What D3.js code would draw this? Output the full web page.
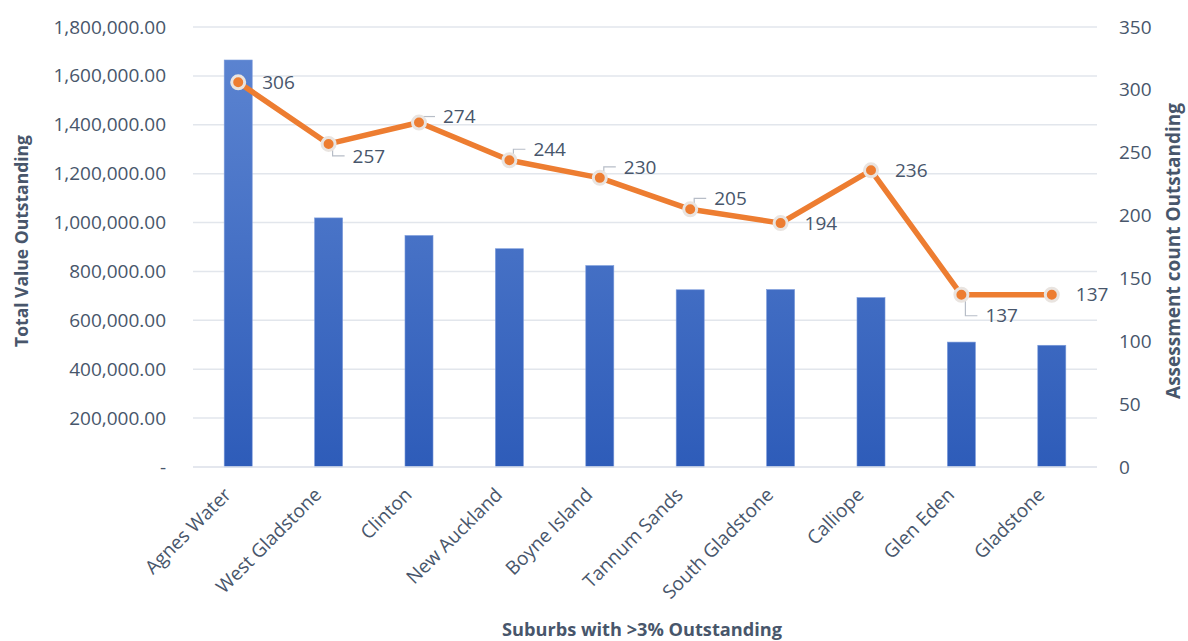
<!DOCTYPE html>
<html>
<head>
<meta charset="utf-8">
<script src="https://cdn.jsdelivr.net/npm/d3@7"></script>
<style>
  html, body { margin: 0; padding: 0; background: #ffffff; }
  svg { display: block; }
  text { font-family: "Open Sans", Lato, sans-serif; }
</style>
</head>
<body>
<svg id="chart" width="1188" height="641"></svg>
<script>
// Suburbs and their outstanding figures
const suburbs = ["Agnes Water", "West Gladstone", "Clinton", "New Auckland", "Boyne Island",
                 "Tannum Sands", "South Gladstone", "Calliope", "Glen Eden", "Gladstone"];
const totalValue = [1665000, 1019000, 947000, 893000, 824000, 725000, 726000, 693000, 511000, 498000];
const assessmentCount = [306, 257, 274, 244, 230, 205, 194, 236, 137, 137];
const valueTicks = [0, 200000, 400000, 600000, 800000, 1000000, 1200000, 1400000, 1600000, 1800000];
const countTicks = [0, 50, 100, 150, 200, 250, 300, 350];
// where each count label sits relative to its marker
const labelPlacement = ["right", "below", "above", "above", "above", "above", "right", "right", "below", "right"];

const svg = d3.select("#chart");
const margin = { left: 193, right: 91, top: 27, bottom: 174 };
const W = 1188, H = 641;
const x0 = margin.left, x1 = W - margin.right, y0 = H - margin.bottom, y1 = margin.top;

const textColor = "#48566B";
const gridColor = "#E2E6EC";
const fontSize = 19;

const x = d3.scaleBand().domain(suburbs).range([x0, x1]).paddingInner(0.69).paddingOuter(0.345);
const yL = d3.scaleLinear().domain([0, 1800000]).range([y0, y1]);
const yR = d3.scaleLinear().domain([0, 350]).range([y0, y1]);
const cx = d => x(d) + x.bandwidth() / 2;

// bar gradient
const defs = svg.append("defs");
const grad = defs.append("linearGradient").attr("id", "barGrad")
  .attr("gradientUnits", "userSpaceOnUse")
  .attr("x1", 0).attr("x2", 0).attr("y1", y1).attr("y2", y0);
grad.append("stop").attr("offset", "0%").attr("stop-color", "#5E86D2");
grad.append("stop").attr("offset", "100%").attr("stop-color", "#2E5CB9");

// gridlines
svg.append("g").selectAll("line").data(valueTicks).join("line")
  .attr("x1", x0).attr("x2", x1)
  .attr("y1", d => yL(d)).attr("y2", d => yL(d))
  .attr("stroke", gridColor).attr("stroke-width", 1.5);

// left axis
const leftAxis = d3.axisLeft(yL).tickValues(valueTicks)
  .tickFormat(d => d === 0 ? "-" : d3.format(",.2f")(d)).tickSize(0).tickPadding(27);
svg.append("g").attr("transform", `translate(${x0},0)`).call(leftAxis)
  .call(g => g.select(".domain").remove())
  .call(g => g.selectAll("text").attr("fill", textColor).attr("font-size", fontSize)
    .attr("font-family", "'Open Sans', sans-serif"));

// right axis
const rightAxis = d3.axisRight(yR).tickValues(countTicks).tickSize(0).tickPadding(22);
svg.append("g").attr("transform", `translate(${x1},0)`).call(rightAxis)
  .call(g => g.select(".domain").remove())
  .call(g => g.selectAll("text").attr("fill", textColor).attr("font-size", fontSize)
    .attr("font-family", "'Open Sans', sans-serif"));

// bars
svg.append("g").selectAll("rect").data(suburbs).join("rect")
  .attr("x", d => x(d)).attr("width", x.bandwidth())
  .attr("y", (d, i) => yL(totalValue[i]))
  .attr("height", (d, i) => y0 - yL(totalValue[i]))
  .attr("fill", "url(#barGrad)")
  .attr("stroke", "#7B9BDB").attr("stroke-width", 0.6);

// baseline
svg.append("line").attr("x1", x0).attr("x2", x1).attr("y1", y0).attr("y2", y0)
  .attr("stroke", gridColor).attr("stroke-width", 1.5);

// category labels
const xAxis = d3.axisBottom(x).tickSize(0).tickPadding(0);
svg.append("g").attr("transform", `translate(0,${y0})`).call(xAxis)
  .call(g => g.select(".domain").remove())
  .call(g => g.selectAll("text")
    .attr("fill", textColor).attr("font-size", fontSize).attr("font-family", "'Open Sans', sans-serif")
    .attr("text-anchor", "end").attr("dy", 0).attr("y", 0)
    .attr("transform", "translate(-6,29) rotate(-45)"));

// count line
const line = d3.line().x((d, i) => cx(suburbs[i])).y(d => yR(d));
svg.append("path").datum(assessmentCount)
  .attr("d", line).attr("fill", "none")
  .attr("stroke", "#ED7D31").attr("stroke-width", 5.5).attr("stroke-linejoin", "round");

// leader lines and labels
const lab = svg.append("g");
assessmentCount.forEach((v, i) => {
  const px = cx(suburbs[i]), py = yR(v);
  const place = labelPlacement[i];
  let lx = px + 24, ly = py;
  if (place === "below") ly = py + (i === 8 ? 21 : 12);
  if (place === "above") ly = py - (i === 2 ? 6 : 11);
  if (place !== "right") {
    const sx = px + 4;
    const sy = place === "below" ? py + 6 : py - 6;
    lab.append("path")
      .attr("d", `M${sx},${sy} L${sx},${ly} L${lx - 8},${ly}`)
      .attr("fill", "none").attr("stroke", "#B7BDC7").attr("stroke-width", 1.2);
  }
  lab.append("text").attr("x", lx).attr("y", ly).attr("dy", "0.35em")
    .attr("fill", textColor).attr("font-size", fontSize).text(v);
});

// markers
svg.append("g").selectAll("circle").data(assessmentCount).join("circle")
  .attr("cx", (d, i) => cx(suburbs[i])).attr("cy", d => yR(d))
  .attr("r", 6.5).attr("fill", "#ED7D31")
  .attr("stroke", "#E9E4E0").attr("stroke-width", 3);

// axis titles
svg.append("text")
  .attr("transform", "translate(28,241) rotate(-90)")
  .attr("text-anchor", "middle").attr("fill", textColor)
  .attr("font-size", 17.5).attr("font-weight", "bold").text("Total Value Outstanding");
svg.append("text")
  .attr("transform", "translate(1180,251) rotate(-90)")
  .attr("text-anchor", "middle").attr("fill", textColor)
  .attr("font-size", 19).attr("font-weight", "bold").text("Assessment count Outstanding");
svg.append("text")
  .attr("x", 642).attr("y", 636)
  .attr("text-anchor", "middle").attr("fill", textColor)
  .attr("font-size", 18.2).attr("font-weight", "bold").text("Suburbs with >3% Outstanding");
</script>
</body>
</html>
